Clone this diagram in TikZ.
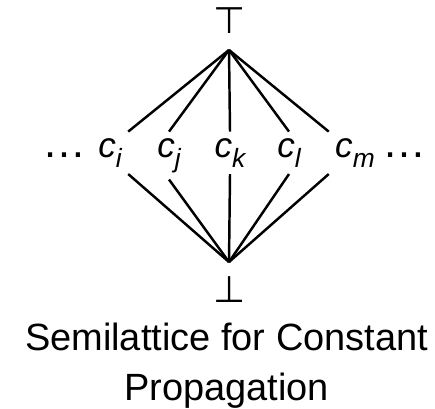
\documentclass[tikz,border=0pt]{standalone}
\usepackage{fontspec}
\setmainfont{Liberation Sans}
\newfontfamily\symfont{DejaVu Sans}
\usetikzlibrary{positioning}
\newcommand{\cname}[1]{\itshape c\raisebox{-0.3em}{\fontsize{15}{15}\selectfont #1}}

\begin{document}
\begin{tikzpicture}[
    edge/.style={draw, line width=1.4pt},
    elem/.style={font=\fontsize{20}{24}\selectfont, inner sep=3.5pt, anchor=base},
    dots/.style={elem, font=\fontsize{25}{25}\selectfont},
    bound/.style={font=\symfont\fontsize{21}{24}\selectfont, inner sep=0pt}
]
    \useasboundingbox (0,0) rectangle (8.7,8.16);
    % Top and bottom elements
    \node[bound] (top) at (4.6,7.74) {⊤};
    \node[bound] (bot) at (4.6,2.36) {⊥};
    \coordinate (topv) at (4.58,7.16);
    \coordinate (botv) at (4.58,2.92);
    % Constants
    \node[elem] (ci) at (2.2,5.02) {\cname{i}};
    \node[elem] (cj) at (3.38,5.02) {\cname{j}};
    \node[elem] (ck) at (4.6,5.02) {\cname{k}};
    \node[elem] (cl) at (5.78,5.02) {\cname{l}};
    \node[elem] (cm) at (7.1,5.02) {\cname{m}};
    % Dots on both sides
    \node[dots] (ldots) at (1.28,5.02) {…};
    \node[dots] (rdots) at (8.08,5.02) {…};
    % Edges to top
    \draw[edge] (topv) -- (ci.north east);
    \draw[edge] (topv) -- (cj.north);
    \draw[edge] (topv) -- (ck.north);
    \draw[edge] (topv) -- (cl.north);
    \draw[edge] (topv) -- (cm.north west);
    % Edges to bottom
    \draw[edge] (botv) -- (ci.south east);
    \draw[edge] (botv) -- (cj.south);
    \draw[edge] (botv) -- (ck.south);
    \draw[edge] (botv) -- (cl.south);
    \draw[edge] (botv) -- (cm.south west);
    % Caption
    \node[font=\fontsize{21.6}{28.45}\selectfont, align=center] (caption) at (4.53,0.85) {Semilattice for Constant\\Propagation};
\end{tikzpicture}
\end{document}
